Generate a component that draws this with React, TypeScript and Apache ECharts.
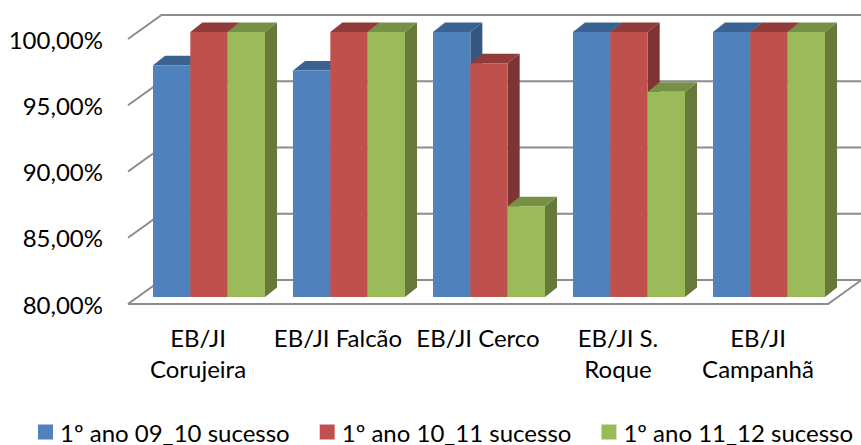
import React, { useEffect, useRef } from "react";
import * as echarts from "echarts";

const categories = ["EB/JI\nCorujeira", "EB/JI Falcão", "EB/JI Cerco", "EB/JI S.\nRoque", "EB/JI\nCampanhã"];
const seriesNames = ["1º ano 09_10 sucesso", "1º ano 10_11 sucesso", "1º ano 11_12 sucesso"];
const values0910 = [97.5, 97.1, 100, 100, 100];
const values1011 = [100, 100, 97.65, 100, 100];
const values1112 = [100, 100, 86.85, 95.5, 100];
const gridTicks = [80, 85, 90, 95, 100];

const frontColors = ["#4F81BD", "#C0504D", "#9BBB59"];
const topColors = ["#3B6391", "#8F3C3A", "#769045"];
const sideColors = ["#35577F", "#7E3432", "#66793A"];
const FONT = "Lato";

const renderWall = (params: any, api: any) => {
  const v = api.value(0);
  const cs = params.coordSys;
  const y = api.coord([0, v])[1];
  const dx = 33.5, dy = -24;
  const lineStyle = { stroke: "#8C8C8C", lineWidth: 2, fill: "none" };
  const children: any[] = [
    {
      type: "polyline",
      shape: { points: [[cs.x, y], [cs.x + dx, y + dy], [cs.x + cs.width + dx, y + dy]] },
      style: lineStyle,
    },
  ];
  if (params.dataIndex === 0) {
    children.push({
      type: "polyline",
      shape: { points: [[cs.x, y], [cs.x + cs.width, y], [cs.x + cs.width + dx, y + dy]] },
      style: lineStyle,
    });
  }
  return { type: "group", children };
};

const makeBarRenderer = (s: number) => (params: any, api: any) => {
  const cat = api.value(0);
  const v = api.value(1);
  const barW = 37.33;
  const off = [11 - barW * 1.5, -7];
  const depth = [12, -9.5];
  const top = api.coord([cat, v]);
  const base = api.coord([cat, 80]);
  const x0 = top[0] + off[0] + barW * s;
  const x1 = x0 + barW;
  const yt = top[1] + off[1];
  const yb = base[1] + off[1];
  return {
    type: "group",
    children: [
      {
        type: "polygon",
        shape: { points: [[x1, yt], [x1 + depth[0], yt + depth[1]], [x1 + depth[0], yb + depth[1]], [x1, yb]] },
        style: { fill: sideColors[s] },
      },
      {
        type: "polygon",
        shape: { points: [[x0, yt], [x0 + depth[0], yt + depth[1]], [x1 + depth[0], yt + depth[1]], [x1, yt]] },
        style: { fill: topColors[s] },
      },
      { type: "rect", shape: { x: x0, y: yt, width: barW, height: yb - yt }, style: { fill: frontColors[s] } },
    ],
  };
};

export default function App() {
  const ref = useRef<HTMLDivElement>(null);
  useEffect(() => {
    const chart = echarts.init(ref.current!, undefined, { renderer: "svg" });
    const allValues = [values0910, values1011, values1112];
    chart.setOption({
      animation: false,
      backgroundColor: "#FFFFFF",
      textStyle: { fontFamily: FONT },
      grid: { left: 128, top: 39, width: 700, height: 265, containLabel: false },
      legend: {
        left: 33,
        top: 415,
        itemWidth: 15,
        itemHeight: 15,
        itemGap: 30,
        icon: "rect",
        data: seriesNames,
        textStyle: { fontFamily: FONT, fontSize: 24, color: "#000000", padding: [0, 0, 0, 2] },
      },
      xAxis: {
        type: "category",
        data: categories,
        axisLine: { show: false },
        axisTick: { show: false },
        axisLabel: { fontFamily: FONT, fontSize: 24, color: "#000000", lineHeight: 31, margin: 18, interval: 0 },
      },
      yAxis: {
        type: "value",
        min: 80,
        max: 100,
        interval: 5,
        axisLine: { show: false },
        axisTick: { show: false },
        splitLine: { show: false },
        axisLabel: {
          fontFamily: FONT,
          fontSize: 24,
          color: "#000000",
          margin: 25,
          padding: [2, 0, 0, 0],
          formatter: (v: number) => v.toFixed(2).replace(".", ",") + "%",
        },
      },
      series: [
        {
          type: "custom",
          name: "wall",
          renderItem: renderWall,
          data: gridTicks.map((t) => [t]),
          encode: { y: 0 },
          silent: true,
          z: 1,
        },
        ...allValues.map((vals, s) => ({
          type: "custom",
          name: seriesNames[s],
          renderItem: makeBarRenderer(s),
          data: vals.map((v, i) => [i, v]),
          encode: { x: 0, y: 1 },
          itemStyle: { color: frontColors[s] },
          z: 2,
        })),
      ],
    });
    return () => chart.dispose();
  }, []);
  return <div ref={ref} style={{ position: "absolute", left: 0, top: 0, width: 861, height: 445 }} />;
}
